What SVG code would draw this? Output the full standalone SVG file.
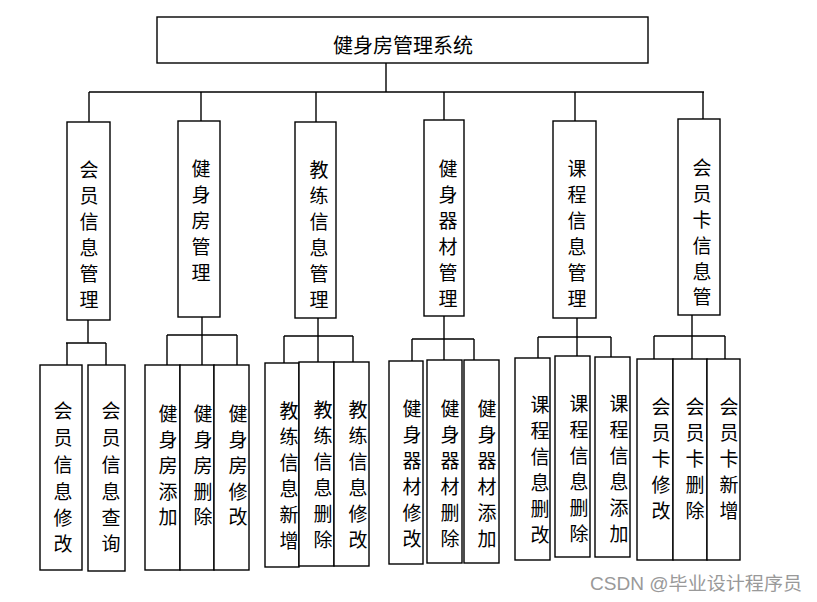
<svg xmlns="http://www.w3.org/2000/svg" width="817" height="602" viewBox="0 0 817 602">
<style>
rect{fill:#fff;stroke:#000;stroke-width:1.4}
#connectors line{stroke:#000;stroke-width:1.4}
text{font-family:"Noto Sans CJK SC","Liberation Serif",serif;font-size:19px;fill:#000;text-anchor:middle;dominant-baseline:central}
.wm{font-family:"Liberation Sans","Noto Sans CJK SC",sans-serif;font-size:18px;fill:#999;text-anchor:start;dominant-baseline:alphabetic}
</style>
<rect x="0" y="0" width="817" height="602" style="fill:#fff;stroke:none"/>
<g id="connectors">
<line x1="386" y1="63" x2="386" y2="92"/>
<line x1="89" y1="92" x2="704" y2="92"/>
<line x1="89" y1="92" x2="89" y2="122"/>
<line x1="201" y1="92" x2="201" y2="121"/>
<line x1="316" y1="92" x2="316" y2="122"/>
<line x1="444" y1="92" x2="444" y2="120"/>
<line x1="575" y1="92" x2="575" y2="121"/>
<line x1="703" y1="92" x2="703" y2="119"/>
<line x1="88" y1="320" x2="88" y2="343"/>
<line x1="66" y1="343" x2="106" y2="343"/>
<line x1="67" y1="343" x2="67" y2="365"/>
<line x1="106" y1="343" x2="106" y2="365"/>
<line x1="202" y1="317" x2="202" y2="365"/>
<line x1="167" y1="335" x2="237" y2="335"/>
<line x1="167" y1="335" x2="167" y2="365"/>
<line x1="237" y1="335" x2="237" y2="365"/>
<line x1="318" y1="318" x2="318" y2="362"/>
<line x1="284" y1="336" x2="353" y2="336"/>
<line x1="284" y1="336" x2="284" y2="363"/>
<line x1="353" y1="336" x2="353" y2="362"/>
<line x1="444" y1="316" x2="444" y2="360"/>
<line x1="412" y1="339" x2="474" y2="339"/>
<line x1="412" y1="339" x2="412" y2="361"/>
<line x1="474" y1="339" x2="474" y2="360"/>
<line x1="577" y1="318" x2="577" y2="356"/>
<line x1="538" y1="337" x2="611" y2="337"/>
<line x1="538" y1="337" x2="538" y2="358"/>
<line x1="611" y1="337" x2="611" y2="357"/>
<line x1="692" y1="315" x2="692" y2="359"/>
<line x1="654" y1="336" x2="725" y2="336"/>
<line x1="654" y1="336" x2="654" y2="359"/>
<line x1="725" y1="336" x2="725" y2="359"/>
</g>
<g id="root"><rect x="157" y="17" width="491" height="46"/><text x="403" y="44" style="font-size:20px">健身房管理系统</text></g>
<g id="n1"><rect x="67" y="122" width="43" height="198"/><text><tspan x="89" y="168">会</tspan><tspan x="89" y="194">员</tspan><tspan x="89" y="220">信</tspan><tspan x="89" y="246">息</tspan><tspan x="89" y="272">管</tspan><tspan x="89" y="298">理</tspan></text></g>
<g id="n2"><rect x="178" y="121" width="42" height="196"/><text><tspan x="201" y="167">健</tspan><tspan x="201" y="193">身</tspan><tspan x="201" y="219">房</tspan><tspan x="201" y="245">管</tspan><tspan x="201" y="271">理</tspan></text></g>
<g id="n3"><rect x="295" y="122" width="41" height="196"/><text><tspan x="319" y="168">教</tspan><tspan x="319" y="194">练</tspan><tspan x="319" y="220">信</tspan><tspan x="319" y="246">息</tspan><tspan x="319" y="272">管</tspan><tspan x="319" y="298">理</tspan></text></g>
<g id="n4"><rect x="424" y="120" width="40" height="196"/><text><tspan x="448" y="167">健</tspan><tspan x="448" y="193">身</tspan><tspan x="448" y="219">器</tspan><tspan x="448" y="245">材</tspan><tspan x="448" y="271">管</tspan><tspan x="448" y="297">理</tspan></text></g>
<g id="n5"><rect x="553" y="121" width="43" height="197"/><text><tspan x="577" y="167">课</tspan><tspan x="577" y="193">程</tspan><tspan x="577" y="219">信</tspan><tspan x="577" y="245">息</tspan><tspan x="577" y="271">管</tspan><tspan x="577" y="297">理</tspan></text></g>
<g id="n6"><rect x="678" y="119" width="42" height="196"/><text><tspan x="702" y="166">会</tspan><tspan x="702" y="192">员</tspan><tspan x="702" y="218">卡</tspan><tspan x="702" y="244">信</tspan><tspan x="702" y="270">息</tspan><tspan x="702" y="295">管</tspan></text></g>
<g id="n1a"><rect x="40" y="365" width="42" height="205"/><text><tspan x="63" y="409">会</tspan><tspan x="63" y="436">员</tspan><tspan x="63" y="463">信</tspan><tspan x="63" y="490">息</tspan><tspan x="63" y="516">修</tspan><tspan x="63" y="542">改</tspan></text></g>
<g id="n1b"><rect x="88" y="365" width="37" height="206"/><text><tspan x="111" y="409">会</tspan><tspan x="111" y="436">员</tspan><tspan x="111" y="463">信</tspan><tspan x="111" y="490">息</tspan><tspan x="111" y="516">查</tspan><tspan x="111" y="542">询</tspan></text></g>
<g id="n2a"><rect x="145" y="365" width="35" height="205"/><text><tspan x="168" y="412">健</tspan><tspan x="168" y="438">身</tspan><tspan x="168" y="464">房</tspan><tspan x="168" y="490">添</tspan><tspan x="168" y="515">加</tspan></text></g>
<g id="n2b"><rect x="180" y="365" width="34" height="205"/><text><tspan x="203" y="412">健</tspan><tspan x="203" y="438">身</tspan><tspan x="203" y="464">房</tspan><tspan x="203" y="490">删</tspan><tspan x="203" y="515">除</tspan></text></g>
<g id="n2c"><rect x="214" y="365" width="35" height="205"/><text><tspan x="238" y="412">健</tspan><tspan x="238" y="438">身</tspan><tspan x="238" y="464">房</tspan><tspan x="238" y="490">修</tspan><tspan x="238" y="515">改</tspan></text></g>
<g id="n3a"><rect x="265" y="363" width="34" height="204"/><text><tspan x="289" y="409">教</tspan><tspan x="289" y="435">练</tspan><tspan x="289" y="461">信</tspan><tspan x="289" y="487">息</tspan><tspan x="289" y="513">新</tspan><tspan x="289" y="539">增</tspan></text></g>
<g id="n3b"><rect x="299" y="362" width="35" height="204"/><text><tspan x="323" y="408">教</tspan><tspan x="323" y="434">练</tspan><tspan x="323" y="460">信</tspan><tspan x="323" y="486">息</tspan><tspan x="323" y="512">删</tspan><tspan x="323" y="538">除</tspan></text></g>
<g id="n3c"><rect x="334" y="362" width="35" height="204"/><text><tspan x="358" y="408">教</tspan><tspan x="358" y="434">练</tspan><tspan x="358" y="460">信</tspan><tspan x="358" y="486">息</tspan><tspan x="358" y="512">修</tspan><tspan x="358" y="538">改</tspan></text></g>
<g id="n4a"><rect x="389" y="361" width="34" height="203"/><text><tspan x="412" y="407">健</tspan><tspan x="412" y="433">身</tspan><tspan x="412" y="459">器</tspan><tspan x="412" y="485">材</tspan><tspan x="412" y="511">修</tspan><tspan x="412" y="537">改</tspan></text></g>
<g id="n4b"><rect x="427" y="360" width="35" height="203"/><text><tspan x="450" y="407">健</tspan><tspan x="450" y="433">身</tspan><tspan x="450" y="459">器</tspan><tspan x="450" y="485">材</tspan><tspan x="450" y="511">删</tspan><tspan x="450" y="537">除</tspan></text></g>
<g id="n4c"><rect x="464" y="360" width="35" height="203"/><text><tspan x="487" y="407">健</tspan><tspan x="487" y="433">身</tspan><tspan x="487" y="459">器</tspan><tspan x="487" y="485">材</tspan><tspan x="487" y="511">添</tspan><tspan x="487" y="537">加</tspan></text></g>
<g id="n5a"><rect x="515" y="358" width="35" height="202"/><text><tspan x="540" y="403">课</tspan><tspan x="540" y="429">程</tspan><tspan x="540" y="455">信</tspan><tspan x="540" y="481">息</tspan><tspan x="540" y="507">删</tspan><tspan x="540" y="533">改</tspan></text></g>
<g id="n5b"><rect x="555" y="356" width="35" height="201"/><text><tspan x="579" y="402">课</tspan><tspan x="579" y="428">程</tspan><tspan x="579" y="454">信</tspan><tspan x="579" y="480">息</tspan><tspan x="579" y="506">删</tspan><tspan x="579" y="532">除</tspan></text></g>
<g id="n5c"><rect x="595" y="357" width="35" height="200"/><text><tspan x="619" y="402">课</tspan><tspan x="619" y="428">程</tspan><tspan x="619" y="454">信</tspan><tspan x="619" y="480">息</tspan><tspan x="619" y="506">添</tspan><tspan x="619" y="532">加</tspan></text></g>
<g id="n6a"><rect x="637" y="359" width="36" height="201"/><text><tspan x="661" y="405">会</tspan><tspan x="661" y="431">员</tspan><tspan x="661" y="457">卡</tspan><tspan x="661" y="483">修</tspan><tspan x="661" y="509">改</tspan></text></g>
<g id="n6b"><rect x="673" y="359" width="34" height="201"/><text><tspan x="695" y="405">会</tspan><tspan x="695" y="431">员</tspan><tspan x="695" y="457">卡</tspan><tspan x="695" y="483">删</tspan><tspan x="695" y="509">除</tspan></text></g>
<g id="n6c"><rect x="707" y="359" width="33" height="201"/><text><tspan x="729" y="405">会</tspan><tspan x="729" y="431">员</tspan><tspan x="729" y="457">卡</tspan><tspan x="729" y="483">新</tspan><tspan x="729" y="509">增</tspan></text></g>
<text class="wm" x="590" y="590" textLength="212" lengthAdjust="spacingAndGlyphs">CSDN @毕业设计程序员</text>
</svg>
